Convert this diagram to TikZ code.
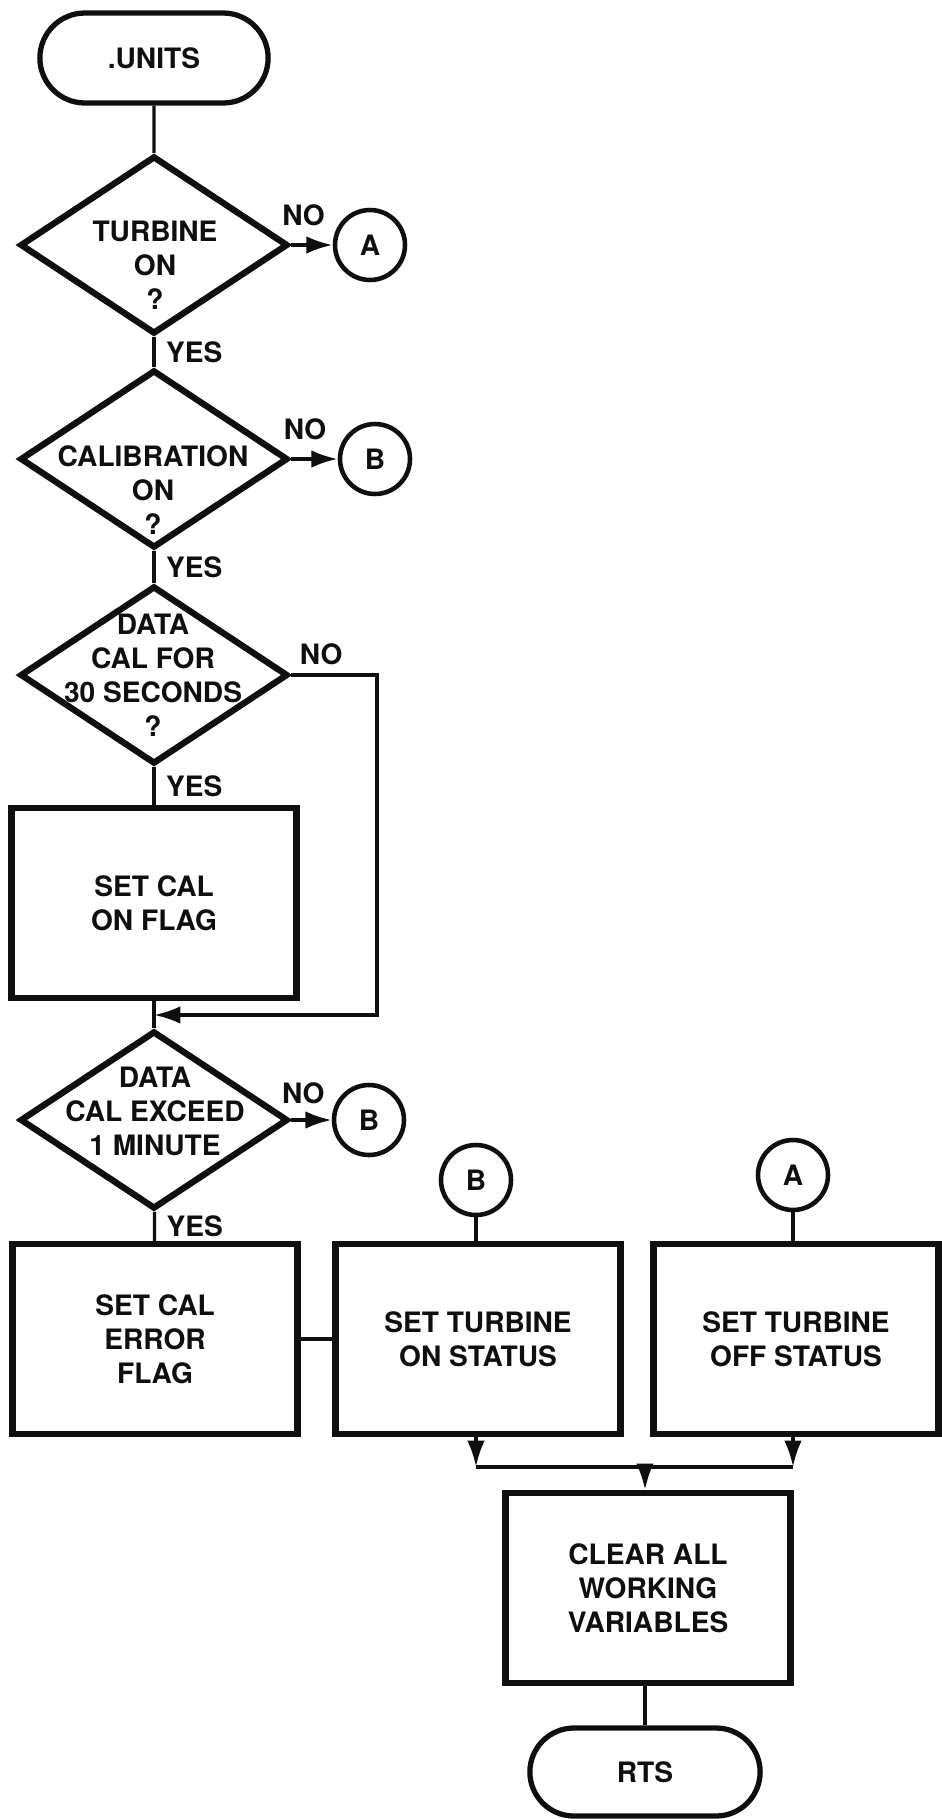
\documentclass[tikz,border=0pt]{standalone}
\usepackage{fontspec}
\setmainfont{TeX Gyre Heros}
\usepackage{tikz}
\usetikzlibrary{arrows.meta,positioning,shapes.geometric,shapes.misc}
\definecolor{ink}{RGB}{15,15,15}

\begin{document}
\begin{tikzpicture}[x=0.02cm, y=-0.02cm,
  every node/.style={font=\fontsize{16}{19.4}\selectfont\bfseries, text=ink},
  term/.style={draw=ink, line width=3pt, rounded rectangle, minimum width=4.8cm, minimum height=1.8cm},
  decide/.style={draw=ink, line width=3.6pt, diamond, inner sep=0pt, minimum width=5.36cm, minimum height=3.56cm},
  box/.style={draw=ink, line width=3.5pt, align=center, minimum width=5.7cm, minimum height=3.8cm},
  conn/.style={draw=ink, line width=2.6pt, circle, minimum size=1.4cm, inner sep=0pt},
  dtext/.style={align=center},
  lbl/.style={inner sep=0pt},
  flow/.style={draw=ink, line width=2pt, -{Latex[length=15pt,width=10pt]}},
  link/.style={draw=ink, line width=1.8pt}]
\useasboundingbox[fill=white] (0,0) rectangle (941,1819);
% entry and first test
\node[term] (units) at (154,58) {.UNITS};
\node[decide] (d1) at (154,245) {};
\node[dtext] (d1t) at (155,265) {TURBINE\\ON\\?};
\node[conn] (cA1) at (370,245) {A};
\draw[link] (units) -- (d1);
\draw[flow] (d1.east) -- node[lbl, pos=0.3, above=10pt]{NO} (cA1);
% calibration on
\node[decide] (d2) at (154,459) {};
\node[dtext] (d2t) at (153,490) {CALIBRATION\\ON\\?};
\node[conn] (cB1) at (375,459) {B};
\draw[link] (d1) -- node[lbl, right=6pt]{YES} (d2);
\draw[flow] (d2.east) -- node[lbl, pos=0.3, above=10pt]{NO} (cB1);
% 30 seconds
\node[decide] (d3) at (154,675) {};
\node[dtext] (d3t) at (153,675) {DATA\\CAL FOR\\30 SECONDS\\?};
\draw[link] (d2) -- node[lbl, right=6pt]{YES} (d3);
\node[box] (calon) at (154,903) {SET CAL\\ON FLAG};
\draw[link] (d3) -- node[lbl, right=6pt]{YES} (calon);
\coordinate (lp) at (377,675);
\coordinate (m1) at (154,1015);
\draw[flow] (d3.east) -- node[lbl, pos=0.35, above=5pt]{NO} (lp) |- (m1);
% one minute
\node[decide] (d4) at (154,1120) {};
\node[dtext] (d4t) at (155,1111) {DATA\\CAL EXCEED\\1 MINUTE};
\node[conn] (cB2) at (369,1120) {B};
\draw[link] (calon) -- (d4);
\draw[flow] (d4.east) -- node[lbl, pos=0.3, above=8pt]{NO} (cB2);
% status boxes
\node[box] (calerr) at (155,1339) {SET CAL\\ERROR\\FLAG};
\node[box] (seton) at (478,1339) {SET TURBINE\\ON STATUS};
\node[box] (setoff) at (796,1339) {SET TURBINE\\OFF STATUS};
\node[conn] (cB3) at (476,1180) {B};
\node[conn] (cA2) at (793,1175) {A};
\draw[link] (d4) -- node[lbl, right=6pt]{YES} (calerr);
\draw[link] (calerr) -- (seton);
\draw[link] (cB3) -- (cB3 |- seton.north);
\draw[link] (cA2) -- (cA2 |- setoff.north);
% join and exit
\coordinate (j1) at (476,1467);
\coordinate (j2) at (793,1467);
\coordinate (j0) at (645,1467);
\node[box] (clear) at (648,1588) {CLEAR ALL\\WORKING\\VARIABLES};
\node[term, minimum width=4.84cm, minimum height=1.76cm] (rts) at (645,1772) {RTS};
\draw[flow] (seton.south -| j1) -- (j1);
\draw[flow] (setoff.south -| j2) -- (j2);
\draw[link] (j1) -- (j2);
\draw[flow] (j0) -- (j0 |- clear.north);
\draw[link] (rts.north) -- (rts.north |- clear.south);
\end{tikzpicture}
\end{document}
